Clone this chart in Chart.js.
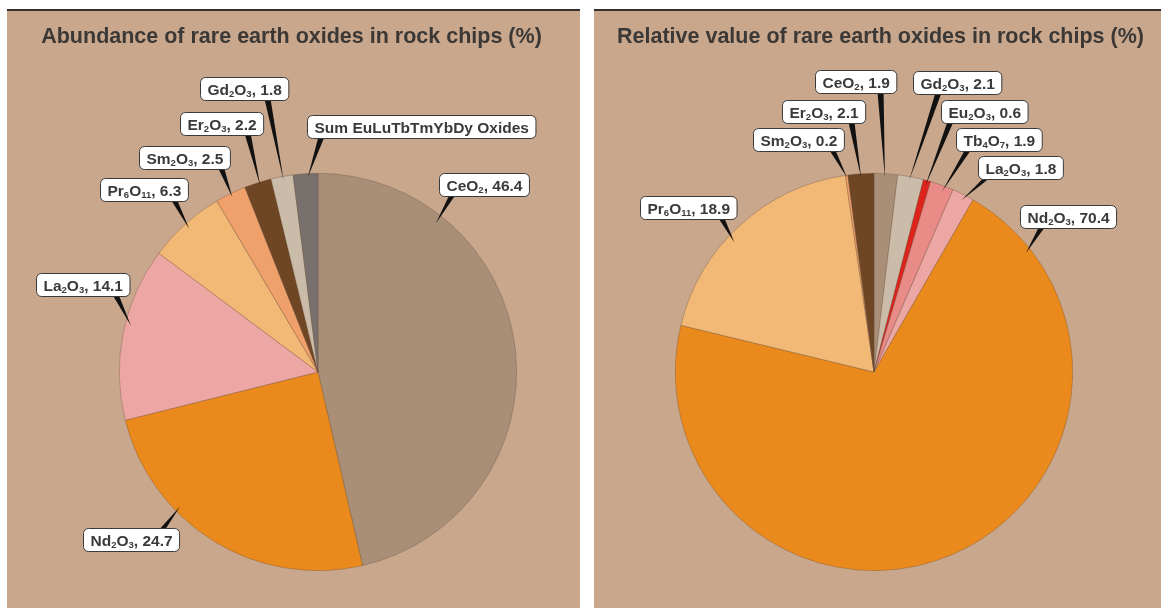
<!DOCTYPE html>
<html>
<head>
<meta charset="utf-8">
<script src="https://cdn.jsdelivr.net/npm/chart.js@4.4.1/dist/chart.umd.min.js"></script>
<style>
  html, body { margin: 0; padding: 0; background: #fff; }
  body { width: 1161px; height: 608px; position: relative; overflow: hidden; font-family: "Liberation Sans", Arial, sans-serif; }
  .panel { position: absolute; top: 9px; height: 599px; background: #C8A78C; border-top: 2px solid #35302d; box-sizing: border-box; }
  .panel h2 { position: absolute; top: 13px; width: 100%; margin: 0; font-size: 21.5px; line-height: 24px; font-weight: bold; color: #3b3836; text-align: center; z-index: 2; }
  .chart-box { position: absolute; left: 0; top: 0; width: 100%; height: 100%; }
</style>
</head>
<body>
<div class="panel" style="left:7px; width:573px;">
  <div class="chart-box"><canvas id="abundance"></canvas></div>
  <h2 style="left:-2px;">Abundance of rare earth oxides in rock chips (%)</h2>
</div>
<div class="panel" style="left:594px; width:567px;">
  <div class="chart-box"><canvas id="relative"></canvas></div>
  <h2 style="left:3px;">Relative value of rare earth oxides in rock chips (%)</h2>
</div>
<script>
// pie 1 - abundance (clockwise from 12 o'clock)
const abundanceCategories = ['CeO₂', 'Nd₂O₃', 'La₂O₃', 'Pr₆O₁₁', 'Sm₂O₃', 'Er₂O₃', 'Gd₂O₃', 'Sum EuLuTbTmYbDy Oxides'];
const abundanceValues = [46.4, 24.7, 14.1, 6.3, 2.5, 2.2, 1.8, 2.0];

// pie 2 - relative value
const valueCategories = ['CeO₂', 'Gd₂O₃', 'Eu₂O₃', 'Tb₄O₇', 'La₂O₃', 'Nd₂O₃', 'Pr₆O₁₁', 'Sm₂O₃', 'Er₂O₃'];
const valueValues = [1.9, 2.1, 0.6, 1.9, 1.8, 70.4, 18.9, 0.2, 2.1];

// labels printed without their number
const noValueLabels = ['Sum EuLuTbTmYbDy Oxides'];

const sliceColors = {
  'CeO₂': '#A98F78',
  'Nd₂O₃': '#EA8A1D',
  'La₂O₃': '#ECA6A3',
  'Pr₆O₁₁': '#F1B876',
  'Sm₂O₃': '#F0A06B',
  'Er₂O₃': '#6E4623',
  'Gd₂O₃': '#CBBBA9',
  'Sum EuLuTbTmYbDy Oxides': '#77706D',
  'Eu₂O₃': '#DE231C',
  'Tb₄O₇': '#E98B87'
};

// callout placement, per slice:
// [box centre dx, dy (in radii from pie centre), leader tip (fraction of slice angle), tip radius fraction, leader base along box width]
const abundanceCallouts = [
  [0.837, -0.945, 0.23, 0.955, 0.14],
  [-0.942, 0.844, 0.66, 0.97, 0.82],
  [-1.186, -0.440, 0.55, 0.97, 0.85],
  [-0.877, -0.917, 0.50, 0.97, 0.84],
  [-0.673, -1.080, 0.50, 0.98, 0.90],
  [-0.487, -1.251, 0.55, 0.98, 0.81],
  [-0.372, -1.427, 0.54, 0.98, 0.76],
  [0.518, -1.236, 0.58, 0.98, 0.06]
];
const valueCallouts = [
  [-0.093, -1.460, 0.47, 0.98, 0.80],
  [0.417, -1.457, 0.47, 0.98, 0.28],
  [0.553, -1.312, 0.46, 0.97, 0.10],
  [0.628, -1.171, 0.59, 0.97, 0.13],
  [0.739, -1.028, 0.55, 0.97, 0.09],
  [0.975, -0.784, 0.087, 0.97, 0.22],
  [-0.937, -0.829, 0.43, 0.96, 0.84],
  [-0.382, -1.171, 0.50, 0.99, 0.87],
  [-0.254, -1.312, 0.50, 0.98, 0.83]
];

const SUBS = '₀₁₂₃₄₅₆₇₈₉';
const FONT_MAIN = 'bold 15.5px "Liberation Sans", Arial, sans-serif';
const FONT_SUB = 'bold 9.5px "Liberation Sans", Arial, sans-serif';

// split a label into normal / subscript runs
function splitSub(text) {
  const out = [];
  for (const ch of text) {
    const k = SUBS.indexOf(ch);
    const sub = k >= 0;
    const c = sub ? String(k) : ch;
    const last = out[out.length - 1];
    if (last && last.sub === sub) last.t += c;
    else out.push({ t: c, sub });
  }
  return out;
}

function runsWidth(ctx, runs) {
  let w = 0;
  runs.forEach(r => {
    ctx.font = r.sub ? FONT_SUB : FONT_MAIN;
    w += ctx.measureText(r.t).width;
  });
  return w;
}

function calloutPlugin(callouts) {
  return {
    id: 'callouts',
    afterDatasetsDraw(chart) {
      const ctx = chart.ctx;
      const meta = chart.getDatasetMeta(0);
      const labels = chart.data.labels;
      const values = chart.data.datasets[0].data;
      ctx.save();
      meta.data.forEach((arc, i) => {
        const [bx, by, tf, tr, bf] = callouts[i];
        const p = arc.getProps(['x', 'y', 'startAngle', 'endAngle', 'outerRadius'], true);
        const R = p.outerRadius;
        const a = p.startAngle + tf * (p.endAngle - p.startAngle);
        const tipX = p.x + Math.cos(a) * R * tr;
        const tipY = p.y + Math.sin(a) * R * tr;

        const text = noValueLabels.includes(labels[i]) ? labels[i] : labels[i] + ', ' + values[i].toFixed(1);
        const runs = splitSub(text);
        const pad = 7;
        const w = runsWidth(ctx, runs) + pad * 2;
        const h = 23;
        const cx = p.x + bx * R;
        const cy = p.y + by * R;
        const left = Math.round(cx - w / 2) + 0.5;
        const top = Math.round(cy - h / 2) + 0.5;

        // leader wedge
        const baseX = left + bf * w;
        const baseY = tipY > cy ? top + h - 1 : top + 1;
        ctx.beginPath();
        ctx.moveTo(baseX - 3, baseY);
        ctx.lineTo(baseX + 3, baseY);
        ctx.lineTo(tipX, tipY);
        ctx.closePath();
        ctx.fillStyle = '#111';
        ctx.fill();

        // box
        ctx.beginPath();
        ctx.roundRect(left, top, w, h, 5);
        ctx.fillStyle = '#fff';
        ctx.fill();
        ctx.lineWidth = 1;
        ctx.strokeStyle = '#3a3a3a';
        ctx.stroke();

        // text
        ctx.fillStyle = '#3a3a3a';
        ctx.textBaseline = 'alphabetic';
        ctx.textAlign = 'left';
        let tx = left + pad;
        const base = top + h / 2 + 5.5;
        runs.forEach(r => {
          ctx.font = r.sub ? FONT_SUB : FONT_MAIN;
          ctx.fillText(r.t, tx, r.sub ? base + 2.5 : base);
          tx += ctx.measureText(r.t).width;
        });
      });
      ctx.restore();
    }
  };
}

function makePie(id, categories, values, callouts, padding) {
  return new Chart(document.getElementById(id), {
    type: 'pie',
    data: {
      labels: categories,
      datasets: [{
        data: values,
        backgroundColor: categories.map(c => sliceColors[c]),
        borderColor: 'rgba(95,70,50,0.45)',
        borderWidth: 0.7
      }]
    },
    options: {
      responsive: true,
      maintainAspectRatio: false,
      animation: false,
      layout: { padding: padding },
      plugins: {
        legend: { display: false },
        tooltip: { enabled: false },
        title: { display: false }
      }
    },
    plugins: [calloutPlugin(callouts)]
  });
}

makePie('abundance', abundanceCategories, abundanceValues, abundanceCallouts, { left: 112, right: 63, top: 162, bottom: 37 });
makePie('relative', valueCategories, valueValues, valueCallouts, { left: 81, right: 88, top: 162, bottom: 37 });
</script>
</body>
</html>
